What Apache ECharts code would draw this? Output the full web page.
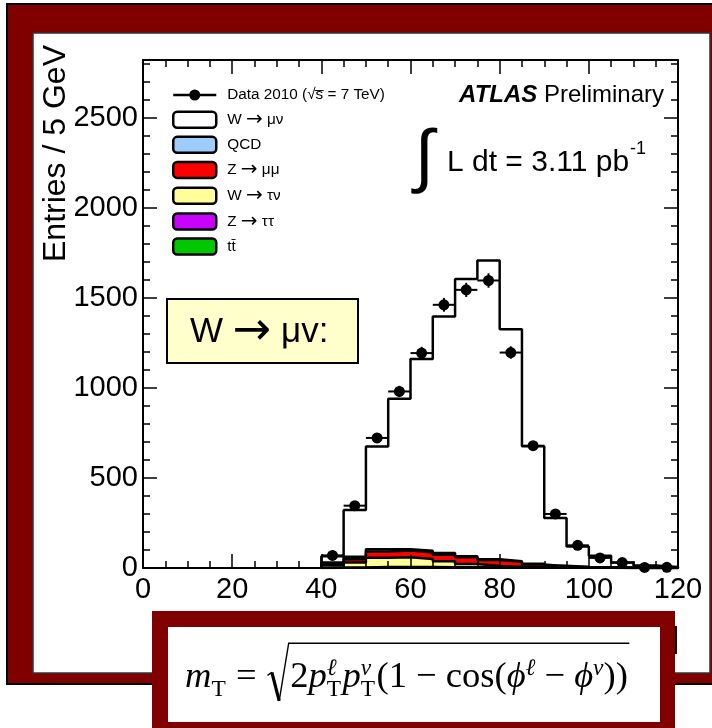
<!DOCTYPE html>
<html>
<head>
<meta charset="utf-8">
<script src="https://cdn.jsdelivr.net/npm/echarts@6/dist/echarts.min.js"></script>
<style>
html,body{margin:0;padding:0;background:#fff;}
#c{width:712px;height:728px;}
</style>
</head>
<body>
<div id="c"></div>
<script>
// ---------------- data (bins of 5 GeV from 40 to 120 GeV) ----------------
const binLow = 40;
const binWidth = 5;
const ttbar   = [1, 1, 2, 2, 2, 2, 2, 2, 2, 1, 1, 1, 1, 0, 0, 0];
const zTauTau = [1, 2, 3, 3, 3, 2, 2, 1, 1, 1, 0, 0, 0, 0, 0, 0];
const wTauNu  = [13, 28, 52, 54, 45, 33, 18, 8, 4, 2, 1, 0, 0, 0, 0, 0];
const zMuMu   = [8, 17, 35, 38, 36, 36, 37, 33, 27, 16, 8, 4, 2, 1, 0, 0];
const qcd     = [8, 15, 12, 7, 10, 10, 6, 4, 3, 4, 2, 1, 0, 0, 0, 0];
const wMuNu   = [34, 259, 571, 836, 1064, 1313, 1539, 1659, 1289, 652, 266, 114, 65, 29, 14, 6];
const dataX   = [42.5, 47.5, 52.5, 57.5, 62.5, 67.5, 72.5, 77.5, 82.5, 87.5, 92.5, 97.5, 102.5, 107.5, 112.5, 117.5];
const dataY   = [70, 346, 722, 980, 1193, 1461, 1544, 1596, 1196, 679, 300, 126, 56, 30, 3, 4];
const xTickLabels = [0, 20, 40, 60, 80, 100, 120];
const yTickLabels = [0, 500, 1000, 1500, 2000, 2500];

const names = {
  data: 'Data 2010 (√s̅ = 7 TeV)',
  wmn: 'W → μν', qcd: 'QCD', zmm: 'Z → μμ', wtn: 'W → τν', ztt: 'Z → ττ', tt: 'tt̄'
};
const colors = {wmn: '#ffffff', qcd: '#9fcdfb', zmm: '#ff0000', wtn: '#ffff99', ztt: '#c800ff', tt: '#00c800'};

// cumulative stack (drawn like ROOT THStack: largest first, each filled to zero)
function addArr(a, b) { return a.map((v, i) => v + b[i]); }
const cumTT  = ttbar.slice();
const cumZTT = addArr(cumTT, zTauTau);
const cumWTN = addArr(cumZTT, wTauNu);
const cumZMM = addArr(cumWTN, zMuMu);
const cumQCD = addArr(cumZMM, qcd);
const cumWMN = addArr(cumQCD, wMuNu);

function stepData(vals) {
  const d = [[binLow, 0]];
  vals.forEach((v, i) => d.push([binLow + i * binWidth, v]));
  const end = binLow + vals.length * binWidth;
  d.push([end, vals[vals.length - 1]]);
  d.push([end, 0]);
  return d;
}

function histSeries(name, vals, color, z) {
  return {
    name: name, type: 'line', step: 'end', data: stepData(vals),
    symbol: 'none', z: z, silent: true, animation: false,
    itemStyle: {color: color},
    lineStyle: {color: '#000', width: 2.5},
    areaStyle: {color: color, opacity: 1}
  };
}

const SANS = "'Liberation Sans', Arial, Helvetica, sans-serif";
const SERIF = "'Liberation Serif', 'DejaVu Serif', serif";
const DEJAVU = "'DejaVu Sans', sans-serif";

// ---------------- text measurement helper ----------------
const mctx = document.createElement('canvas').getContext('2d');
function textW(t, size, fam, italic, bold) {
  mctx.font = (italic ? 'italic ' : '') + (bold ? 'bold ' : '') + size + 'px ' + fam;
  return mctx.measureText(t).width;
}

// ---------------- formula m_T = sqrt(2 pT pT (1 - cos(dphi))) ----------------
function buildFormula(x0, xEnd, base) {
  function layout(S) {
    const s = S * 0.64;
    let x = 0; const out = [];
    const put = (t, size, it, dy, adv) => {
      out.push({t: t, size: size, it: it, x: x, dy: dy});
      const w = textW(t, size, SERIF, it);
      if (adv !== false) x += w;
      return w;
    };
    const stack = (sup, sub) => {
      const a = put(sup, s, true, -0.36 * S, false);
      const b = put(sub, s, false, 0.22 * S, false);
      x += Math.max(a, b) + 0.04 * S;
    };
    put('m', S, true, 0);
    put('T', s, false, 0.22 * S);
    x += 0.28 * S; put('=', S, false, 0); x += 0.3 * S;
    const rx = x; x += 0.62 * S;
    put('2', S, false, 0);
    put('p', S, true, 0); stack('ℓ', 'T');
    put('p', S, true, 0); stack('ν', 'T');
    put('(1 − cos(', S, false, 0);
    put('ϕ', S, true, 0); put('ℓ', s, true, -0.36 * S);
    put(' − ', S, false, 0);
    put('ϕ', S, true, 0); put('ν', s, true, -0.36 * S);
    put('))', S, false, 0);
    return {out: out, rx: rx, end: x, S: S};
  }
  let L = layout(36);
  L = layout(36 * (xEnd - x0) / L.end);
  const S = L.S;
  const els = L.out.map(tk => ({
    type: 'text', x: x0 + tk.x, y: base + tk.dy - 0.3375 * tk.size, z: 60, silent: true,
    style: {text: tk.t, fontSize: tk.size, fontFamily: SERIF, fontStyle: tk.it ? 'italic' : 'normal',
            fill: '#000', align: 'left', verticalAlign: 'middle'}
  }));
  const rx = x0 + L.rx;
  const top = base - 1.28 * S;
  els.push({type: 'polyline', z: 60, silent: true,
    shape: {points: [[rx, base - 0.40 * S], [rx + 0.12 * S, base - 0.48 * S]]},
    style: {stroke: '#000', lineWidth: 1.4, fill: null}});
  els.push({type: 'polyline', z: 60, silent: true,
    shape: {points: [[rx + 0.12 * S, base - 0.48 * S], [rx + 0.32 * S, base + 0.30 * S]]},
    style: {stroke: '#000', lineWidth: 3.2, fill: null}});
  els.push({type: 'polyline', z: 60, silent: true,
    shape: {points: [[rx + 0.32 * S, base + 0.30 * S], [rx + 0.58 * S, top], [x0 + L.end + 0.04 * S, top]]},
    style: {stroke: '#000', lineWidth: 1.4, fill: null}});
  return els;
}

// ---------------- luminosity label ----------------
const lumiText = 'L dt = 3.11 pb';
const lumiX = 447, lumiY = 163, lumiSize = 30;
const lumiW = textW(lumiText, lumiSize, SANS);

const chart = echarts.init(document.getElementById('c'), null, {renderer: 'canvas'});

const tickStyle = {color: '#000', width: 1.5};
function xAx(pos, labels) {
  return {
    type: 'value', min: xTickLabels[0], max: xTickLabels[xTickLabels.length - 1],
    interval: xTickLabels[1] - xTickLabels[0], position: pos, z: 10,
    axisLine: {show: true, onZero: false, lineStyle: {color: '#000', width: 2}},
    axisTick: {show: true, inside: true, length: 14, lineStyle: tickStyle},
    minorTick: {show: true, splitNumber: 4, length: 7, lineStyle: tickStyle},
    splitLine: {show: false}, minorSplitLine: {show: false},
    axisLabel: labels ? {show: true, fontSize: 29, fontFamily: SANS, color: '#000', margin: 7,
                         formatter: v => String(v)} : {show: false}
  };
}
const yMax = 2820;
function yAx(pos, interval, tickLen, labels, line) {
  return {
    type: 'value', min: 0, max: yMax, interval: interval, position: pos, z: 10,
    axisLine: {show: line, onZero: false, lineStyle: {color: '#000', width: 2}},
    axisTick: {show: true, inside: true, length: tickLen, lineStyle: tickStyle},
    splitLine: {show: false},
    axisLabel: labels ? {show: true, fontSize: 29, fontFamily: SANS, color: '#000', margin: 5, showMaxLabel: false,
                         formatter: v => String(v)} : {show: false}
  };
}

const dataIcon = 'path://M0,6.8H43V9.2H0Z M16,8A5.5,5.5 0 1 1 27,8A5.5,5.5 0 1 1 16,8Z';

const graphics = [
  // slide frame
  {type: 'rect', z: -20, silent: true, shape: {x: 7, y: 4, width: 760, height: 680},
   style: {fill: '#800000', stroke: '#000', lineWidth: 2}},
  {type: 'rect', z: -19, silent: true, shape: {x: 33, y: 33, width: 677, height: 640},
   style: {fill: '#ffffff', stroke: '#333', lineWidth: 1.5}},
  // y axis title
  {type: 'text', x: 56, y: 45, rotation: Math.PI / 2, z: 30, silent: true,
   style: {text: 'Entries / 5 GeV', fontSize: 32, fontFamily: SANS, fill: '#000', align: 'right', verticalAlign: 'middle'}},
  // x axis title (mostly hidden by the formula box)
  {type: 'text', x: 679, y: 640, z: 30, silent: true,
   style: {text: '{a|m}{b|T} [GeV]', align: 'right', verticalAlign: 'middle', fontSize: 30, fontFamily: SANS, fill: '#000',
           rich: {a: {fontSize: 30, fontFamily: SANS, fontStyle: 'italic', fill: '#000'},
                  b: {fontSize: 20, fontFamily: SANS, fill: '#000', verticalAlign: 'bottom'}}}},
  // ATLAS Preliminary
  {type: 'text', x: 664, y: 95, z: 30, silent: true,
   style: {text: '{a|ATLAS}  {b|Preliminary}', align: 'right', verticalAlign: 'middle',
           rich: {a: {fontSize: 24, fontFamily: SANS, fontWeight: 'bold', fontStyle: 'italic', fill: '#000'},
                  b: {fontSize: 24, fontFamily: SANS, fill: '#000'}}}},
  // luminosity
  {type: 'text', x: 424, y: 160, z: 30, silent: true,
   style: {text: '∫', fontSize: 70, fontFamily: SANS, fill: '#000', align: 'center', verticalAlign: 'middle'}},
  {type: 'text', x: lumiX, y: lumiY, z: 30, silent: true,
   style: {text: lumiText, fontSize: lumiSize, fontFamily: SANS, fill: '#000', align: 'left', verticalAlign: 'middle'}},
  {type: 'text', x: lumiX + lumiW + 1, y: lumiY - 14, z: 30, silent: true,
   style: {text: '-1', fontSize: 18, fontFamily: SANS, fill: '#000', align: 'left', verticalAlign: 'middle'}},
  // W -> mu nu box
  {type: 'rect', z: 30, silent: true, shape: {x: 167, y: 299, width: 191, height: 64},
   style: {fill: '#ffffcc', stroke: '#000', lineWidth: 2}},
  {type: 'text', x: 190, y: 332, z: 31, silent: true,
   style: {text: '{a|W }{b|→}{a| μv:}', align: 'left', verticalAlign: 'middle',
           rich: {a: {fontSize: 35, fontFamily: SANS, fill: '#000'},
                  b: {fontSize: 46, fontFamily: DEJAVU, fill: '#000'}}}},
  // formula box
  {type: 'rect', z: 50, silent: true, shape: {x: 152, y: 611, width: 523, height: 130},
   style: {fill: '#800000'}},
  {type: 'rect', z: 51, silent: true, shape: {x: 168, y: 627, width: 492, height: 95},
   style: {fill: '#ffffff'}}
].concat(buildFormula(185, 628, 690));

function legendItem(key, color) {
  return {name: names[key], icon: 'roundRect', itemStyle: {color: color, borderColor: '#000', borderWidth: 2.5}};
}

const option = {
  animation: false,
  backgroundColor: '#ffffff',
  grid: {left: 143, right: 34, top: 60, bottom: 160, containLabel: false, outerBoundsMode: 'none'},
  xAxis: [xAx('bottom', true), xAx('top', false)],
  yAxis: [
    yAx('left', yTickLabels[1] - yTickLabels[0], 14, true, true),
    yAx('left', 100, 7, false, false),
    yAx('right', yTickLabels[1] - yTickLabels[0], 14, false, true),
    yAx('right', 100, 7, false, false)
  ],
  legend: {
    orient: 'vertical', left: 172, top: 86, itemWidth: 43, itemHeight: 16, itemGap: 5.8, padding: 0,
    selectedMode: false, z: 20,
    formatter: function (name) {
      return name.split('→').map(p => '{t|' + p + '}').join('{r|→}');
    },
    textStyle: {fontSize: 15.3, lineHeight: 18, fontFamily: SANS, color: '#000', padding: [0, 0, 0, 6],
      rich: {t: {fontSize: 15.3, lineHeight: 18, fontFamily: SANS, color: '#000'},
             r: {fontSize: 20, lineHeight: 18, fontFamily: DEJAVU, color: '#000'}}},
    data: [
      {name: names.data, icon: dataIcon, itemStyle: {color: '#000', borderWidth: 0}},
      legendItem('wmn', colors.wmn),
      legendItem('qcd', colors.qcd),
      legendItem('zmm', colors.zmm),
      legendItem('wtn', colors.wtn),
      legendItem('ztt', colors.ztt),
      legendItem('tt', colors.tt)
    ]
  },
  graphic: {elements: graphics},
  series: [
    histSeries(names.wmn, cumWMN, colors.wmn, 2),
    histSeries(names.qcd, cumQCD, colors.qcd, 3),
    histSeries(names.zmm, cumZMM, colors.zmm, 4),
    histSeries(names.wtn, cumWTN, colors.wtn, 5),
    histSeries(names.ztt, cumZTT, colors.ztt, 6),
    histSeries(names.tt, cumTT, colors.tt, 7),
    {
      name: 'errors', type: 'custom', z: 19, silent: true, animation: false,
      data: dataX.map((x, i) => [x, dataY[i]]),
      renderItem: function (params, api) {
        const x = api.value(0), y = api.value(1), e = Math.sqrt(y);
        const h1 = api.coord([x - binWidth / 2, y]), h2 = api.coord([x + binWidth / 2, y]);
        const v1 = api.coord([x, Math.max(0, y - e)]), v2 = api.coord([x, y + e]);
        const st = {stroke: '#000', lineWidth: 2};
        return {type: 'group', children: [
          {type: 'line', shape: {x1: h1[0], y1: h1[1], x2: h2[0], y2: h2[1]}, style: st},
          {type: 'line', shape: {x1: v1[0], y1: v1[1], x2: v2[0], y2: v2[1]}, style: st}
        ]};
      }
    },
    {
      name: names.data, type: 'scatter', z: 20, silent: true, animation: false,
      symbol: 'circle', symbolSize: 11, itemStyle: {color: '#000', opacity: 1},
      data: dataX.map((x, i) => [x, dataY[i]])
    }
  ]
};
chart.setOption(option);
</script>
</body>
</html>
